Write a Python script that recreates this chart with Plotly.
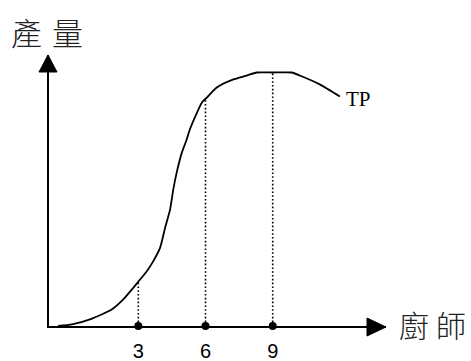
import numpy as np
import plotly.graph_objects as go

# Total product curve (cooks -> output)
cooks = [-0.58, 0.04, 0.84, 1.81, 2.33, 2.78, 3.0, 3.38, 3.67, 3.97, 4.20, 4.42, 4.56,
         4.71, 4.94, 5.16, 5.30, 5.52, 5.84, 6.06, 6.50, 7.22, 7.84, 8.29, 9.0, 9.85,
         10.21, 11.10, 12.0]
output = [0.0, 0.6, 2.6, 6.5, 10.5, 15.1, 17.5, 21.6, 25.6, 30.8, 38.9, 46.0, 53.8,
          60.4, 68.3, 73.6, 77.5, 82.2, 88.2, 90.1, 94.1, 97.2, 98.8, 100.0, 100.0, 100.0,
          98.8, 95.3, 90.5]

tick_vals = [3, 6, 9]
tick_text = ["3", "6", "9"]
curve_label = "TP"
y_title = ["產", "量"]
x_title = ["廚", "師"]

W, H = 471, 361
ML, MR, MT, MB = 49, 85, 55, 35
PW, PH = W - ML - MR, H - MT - MB
X_MIN = -0.987
X_MAX = X_MIN + PW / 22.4
Y_MIN = 0.0
Y_MAX = PH / 2.535


def px(xp):
    return (xp - ML) / PW


def py(yp):
    return (H - MB - yp) / PH


fig = go.Figure()

# dotted guide lines from the axis up to the curve
tick_heights = np.interp(tick_vals, cooks, output)
for tv, th in zip(tick_vals, tick_heights):
    fig.add_trace(go.Scatter(x=[tv, tv], y=[0, th], mode="lines",
                             line=dict(color="black", width=1.6, dash="1.6px,2.2px"),
                             hoverinfo="skip", showlegend=False))

# TP curve
fig.add_trace(go.Scatter(x=cooks, y=output, mode="lines",
                         line=dict(color="black", width=1.8, shape="spline", smoothing=0.6),
                         showlegend=False, cliponaxis=False))

# dots on the x axis at the ticks
fig.add_trace(go.Scatter(x=tick_vals, y=[0] * len(tick_vals), mode="markers",
                         marker=dict(color="black", size=8),
                         showlegend=False, cliponaxis=False))

# arrowheads at the axis ends
fig.add_shape(type="path", xref="paper", yref="paper", xsizemode="pixel", ysizemode="pixel",
              xanchor=0, yanchor=1, path="M-1,0 L-10,-17 L8,-17 Z",
              fillcolor="black", line=dict(color="black", width=1))
fig.add_shape(type="path", xref="paper", yref="paper", xsizemode="pixel", ysizemode="pixel",
              xanchor=1, yanchor=0, path="M0,-1 L-19,8 L-19,-10 Z",
              fillcolor="black", line=dict(color="black", width=1))

cjk = "Noto Sans CJK TC"
for ch, xp in zip(y_title, [27, 67]):
    fig.add_annotation(text=ch, xref="paper", yref="paper", x=px(xp), y=py(31),
                       showarrow=False, xanchor="center", yanchor="middle",
                       font=dict(family=cjk, size=31, color="#222", weight=300))
for ch, xp in zip(x_title, [414, 451]):
    fig.add_annotation(text=ch, xref="paper", yref="paper", x=px(xp), y=py(324),
                       showarrow=False, xanchor="center", yanchor="middle",
                       font=dict(family=cjk, size=30, color="#222", weight=300))
fig.add_annotation(text=curve_label, xref="paper", yref="paper", x=px(358), y=py(99),
                   showarrow=False, xanchor="center", yanchor="middle",
                   font=dict(family="Liberation Serif", size=21, color="black"))

fig.update_layout(
    width=W, height=H,
    margin=dict(l=ML, r=MR, t=MT, b=MB, autoexpand=False),
    paper_bgcolor="white", plot_bgcolor="white",
    xaxis=dict(range=[X_MIN, X_MAX], showgrid=False, zeroline=False, automargin=False,
               showline=True, linecolor="black", linewidth=2,
               tickmode="array", tickvals=tick_vals, ticktext=tick_text,
               ticks="", ticklabelstandoff=6,
               tickfont=dict(family="Liberation Sans", size=20, color="black")),
    yaxis=dict(range=[Y_MIN, Y_MAX], showgrid=False, zeroline=False, automargin=False,
               showline=True, linecolor="black", linewidth=2,
               showticklabels=False, ticks=""),
    showlegend=False,
)

fig.write_html("out.html", config={"displayModeBar": False},
               post_script="document.body.style.margin='0';document.body.style.overflow='hidden';")
